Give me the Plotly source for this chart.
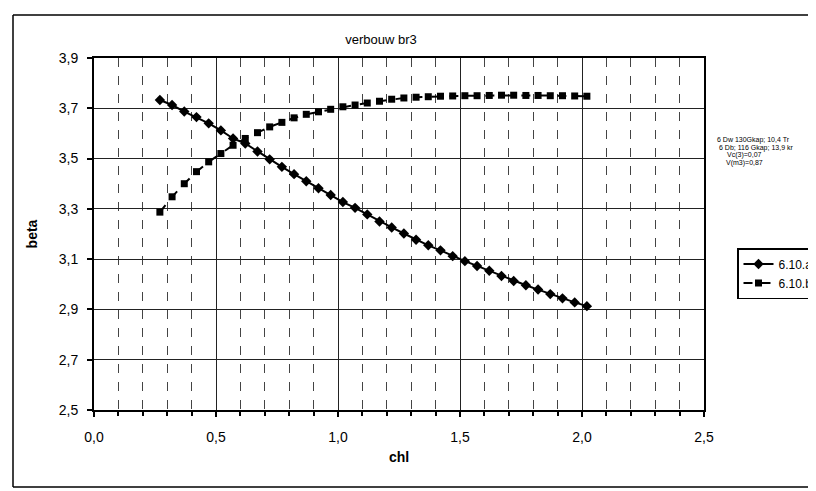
import plotly.graph_objects as go

chl = [round(0.27 + 0.05 * i, 2) for i in range(36)]
beta_a = [3.733, 3.713, 3.687, 3.665, 3.640, 3.612, 3.580, 3.560, 3.528, 3.497,
          3.467, 3.438, 3.410, 3.382, 3.355, 3.327, 3.304, 3.278, 3.250, 3.226,
          3.202, 3.177, 3.155, 3.135, 3.112, 3.092, 3.073, 3.054, 3.033, 3.013,
          2.996, 2.979, 2.961, 2.944, 2.928, 2.913]
beta_b = [3.287, 3.348, 3.400, 3.448, 3.487, 3.520, 3.553, 3.580, 3.603, 3.626,
          3.644, 3.662, 3.676, 3.686, 3.696, 3.706, 3.713, 3.721, 3.728, 3.736,
          3.741, 3.744, 3.746, 3.748, 3.749, 3.750, 3.750, 3.751, 3.752, 3.752,
          3.751, 3.751, 3.750, 3.750, 3.749, 3.748]
series_names = ["6.10.a", "6.10.b"]
note_lines = ["6 Dw 130Gkap; 10,4 Tr", "6 Db; 116 Gkap; 13,9 kr", "Vc(3)=0,07", "V(m3)=0,87"]

FONT = "Liberation Sans, Arial, sans-serif"
O = 7  # page offset of the figure in the screenshot
L, T, PW, PH = 93 - O, 57 - O, 610, 352
W, H = 816, 491


def px(xs):
    return (xs - O - L) / PW


def py(ys):
    return (T + PH - (ys - O)) / PH


fig = go.Figure()
fig.add_trace(go.Scatter(x=chl, y=beta_a, mode="lines+markers", name=series_names[0],
                         line=dict(color="black", width=2),
                         marker=dict(symbol="diamond", size=8, color="black")))
fig.add_trace(go.Scatter(x=chl, y=beta_b, mode="lines+markers", name=series_names[1],
                         line=dict(color="black", width=2, dash="dash"),
                         marker=dict(symbol="square", size=7, color="black")))

axis_common = dict(showline=True, linecolor="black", linewidth=2, mirror=True,
                   ticks="outside", ticklen=5, tickcolor="black", tickwidth=1.5,
                   gridcolor="#222", gridwidth=1, zeroline=False, automargin=False,
                   tickfont=dict(family=FONT, size=14, color="black"))

fig.update_xaxes(range=[0, 2.5], tick0=0, dtick=0.5, tickformat=".1f",
                 ticklabelstandoff=8,
                 minor=dict(dtick=0.1, showgrid=True, gridcolor="#444", griddash="dash",
                            ticks="outside", ticklen=4, tickcolor="black"),
                 title=dict(text="<b>chl</b>", font=dict(family=FONT, size=14, color="black"),
                            standoff=8),
                 **axis_common)
fig.update_yaxes(range=[2.5, 3.9], tick0=2.5, dtick=0.2, tickformat=".1f",
                 ticklabelstandoff=6,
                 title=dict(text="<b>beta</b>", font=dict(family=FONT, size=14, color="black"),
                            standoff=18),
                 **axis_common)

note_x = [714, 716, 743, 743]
for i, t in enumerate(note_lines):
    fig.add_annotation(xref="paper", yref="paper", x=px(note_x[i]),
                       y=py(133 + 7.5 * i), text=t, showarrow=False,
                       xanchor="left" if i < 2 else "center",
                       font=dict(family=FONT, size=7, color="black"))

# outer chart frame (right edge lies beyond the visible page)
frame = dict(xref="paper", yref="paper", line=dict(color="black", width=1.5), layer="below")
fig.add_shape(type="line", x0=px(12), x1=px(12), y0=py(486), y1=py(14), **frame)
fig.add_shape(type="line", x0=px(12), x1=px(900), y0=py(14), y1=py(14), **frame)
fig.add_shape(type="line", x0=px(12), x1=px(900), y0=py(486), y1=py(486), **frame)

fig.update_layout(
    width=W, height=H,
    margin=dict(l=L, r=W - L - PW, t=T, b=H - T - PH, autoexpand=False),
    paper_bgcolor="white", plot_bgcolor="white",
    separators=",.",
    title=dict(text="verbouw br3", x=(380 - O) / W, xanchor="center",
               y=1 - (38 - O) / H, yanchor="middle",
               font=dict(family=FONT, size=13, color="black"), automargin=False),
    showlegend=True,
    legend=dict(xref="container", yref="container", x=(736 - O) / W, y=1 - (247 - O) / H,
                xanchor="left", yanchor="top",
                bordercolor="black", borderwidth=1.5, bgcolor="white",
                font=dict(family=FONT, size=12, color="black"),
                tracegroupgap=2, itemwidth=30),
)

fig.write_html("out.html")
